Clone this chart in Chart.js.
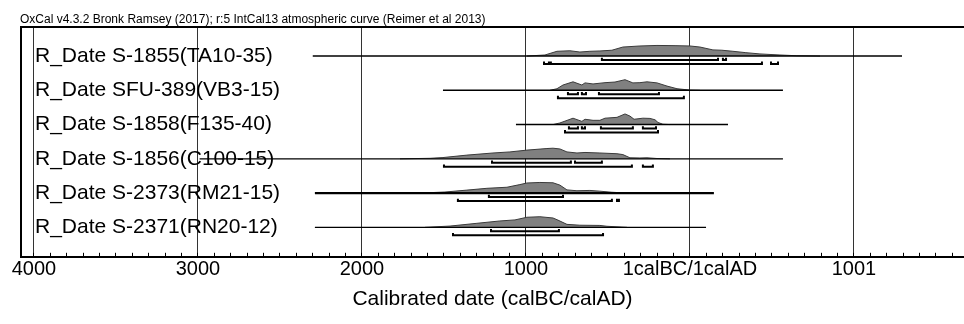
<!DOCTYPE html>
<html>
<head>
<meta charset="utf-8">
<script src="https://cdn.jsdelivr.net/npm/chart.js@4.4.0/dist/chart.umd.min.js"></script>
<style>
  body { margin: 0; background: #fff; }
  #wrap { width: 964px; height: 324px; }
</style>
</head>
<body>
<div id="wrap"><canvas id="oxcal" width="964" height="324"></canvas></div>
<script>
// Calibrated dates: years BC are negative, AD positive
const rowLabels = [
  'R_Date S-1855(TA10-35)',
  'R_Date SFU-389(VB3-15)',
  'R_Date S-1858(F135-40)',
  'R_Date S-1856(C100-15)',
  'R_Date S-2373(RM21-15)',
  'R_Date S-2371(RN20-12)'
];

// horizontal span of each row's line
const lineSpans = [[-2300, 1293], [-1506, 567], [-1061, 232], [-2990, 567], [-2287, 146], [-2287, 98]];

// probability distributions [year, relative height]
const densityS1855 = [[-994, 0], [-884, 0.1], [-811, 0.45], [-732, 0.5], [-671, 0.38], [-610, 0.45], [-549, 0.48],
  [-476, 0.55], [-409, 0.85], [-305, 0.95], [-201, 1], [-91, 0.98], [0, 0.95], [61, 0.85], [140, 0.58], [195, 0.55],
  [262, 0.45], [341, 0.32], [427, 0.2], [549, 0.1], [652, 0.03], [793, 0]];
const densitySFU389 = [[-854, 0], [-811, 0.15], [-774, 0.5], [-713, 0.8], [-659, 0.5], [-640, 0.7], [-591, 0.6],
  [-518, 0.72], [-457, 0.78], [-396, 1], [-348, 0.7], [-305, 0.72], [-262, 0.8], [-201, 0.7], [-140, 0.4],
  [-79, 0.15], [0, 0.02], [61, 0]];
const densityS1858 = [[-835, 0], [-793, 0.15], [-713, 0.6], [-659, 0.3], [-640, 0.5], [-591, 0.4], [-549, 0.4],
  [-518, 0.6], [-445, 0.68], [-396, 1], [-366, 0.8], [-341, 0.5], [-287, 0.6], [-244, 0.58], [-213, 0.45],
  [-195, 0.2], [-165, 0.03], [-122, 0]];
const densityS1856 = [[-1768, 0], [-1585, 0.05], [-1506, 0.12], [-1360, 0.35], [-1201, 0.55], [-1098, 0.65],
  [-994, 0.82], [-872, 0.97], [-835, 1], [-793, 0.93], [-750, 0.65], [-689, 0.55], [-640, 0.6], [-549, 0.55],
  [-445, 0.48], [-409, 0.4], [-366, 0.1], [-305, 0.08], [-262, 0.1], [-201, 0.03], [-122, 0]];
const densityS2373 = [[-1646, 0], [-1494, 0.1], [-1360, 0.28], [-1238, 0.45], [-1116, 0.55], [-1037, 0.8],
  [-994, 0.95], [-915, 1], [-835, 0.97], [-793, 0.75], [-750, 0.3], [-689, 0.22], [-610, 0.25], [-549, 0.18],
  [-476, 0.08], [-384, 0]];
const densityS2371 = [[-1616, 0], [-1463, 0.12], [-1299, 0.38], [-1159, 0.6], [-1067, 0.7], [-994, 0.95],
  [-915, 1], [-835, 0.88], [-805, 0.68], [-750, 0.28], [-671, 0.2], [-549, 0.18], [-506, 0.1], [-384, 0]];

// 68.2% and 95.4% highest probability ranges
const range68 = [
  [[-537, 171], [201, 220]],
  [[-744, -683], [-659, -634], [-555, -189]],
  [[-738, -683], [-659, -640], [-543, -348], [-287, -207]],
  [[-1207, -726], [-701, -537]],
  [[-1226, -774]],
  [[-1213, -799]]
];
const range95 = [
  [[-890, -860], [-848, 439], [494, 537]],
  [[-805, -37]],
  [[-762, -195]],
  [[-1500, -354], [-287, -226]],
  [[-1415, -476], [-445, -433]],
  [[-1445, -530]]
];

// axis ticks
const majorYears = [-4000, -3000, -2000, -1000, 0, 1000];
const majorLabels = ['4000', '3000', '2000', '1000', '1calBC/1calAD', '1001'];
const minorStep = 100;

const densities = [densityS1855, densitySFU389, densityS1858, densityS1856, densityS2373, densityS2371];

const X_MIN = -4079, X_MAX = 1671;
const PEAK = 0.31;     // height of a distribution, in row units
const OFF68 = 0.116;   // bar offsets below the line
const OFF95 = 0.232;
const CAP = 0.07;
const FONT = "'Liberation Sans', Arial, sans-serif";

function bracketPoints(segments, y) {
  const pts = [];
  segments.forEach(([a, b]) => {
    pts.push({ x: a, y: y - CAP }, { x: a, y: y }, { x: b, y: y }, { x: b, y: y - CAP }, { x: b, y: null });
  });
  return pts;
}

const datasets = [];
rowLabels.forEach((label, i) => {
  const row = i + 1;
  datasets.push({
    label: label + ' distribution',
    data: densities[i].map(([x, h]) => ({ x: x, y: row - h * PEAK })),
    borderColor: '#3a3a3a',
    borderWidth: 1,
    backgroundColor: '#808080',
    fill: { value: row },
    pointRadius: 0,
    tension: 0,
    order: 3
  });
  datasets.push({
    label: label + ' line',
    data: lineSpans[i].map(x => ({ x: x, y: row })),
    borderColor: '#000',
    borderWidth: row === 5 ? 2.2 : 1.4,
    pointRadius: 0,
    fill: false,
    order: 2
  });
  datasets.push({
    label: label + ' 68.2%',
    data: bracketPoints(range68[i], row + OFF68),
    borderColor: '#000',
    borderWidth: 2,
    pointRadius: 0,
    fill: false,
    spanGaps: false,
    order: 1
  });
  datasets.push({
    label: label + ' 95.4%',
    data: bracketPoints(range95[i], row + OFF95),
    borderColor: '#000',
    borderWidth: 2,
    pointRadius: 0,
    fill: false,
    spanGaps: false,
    order: 1
  });
});

const ctx = document.getElementById('oxcal').getContext('2d');

const oxcalChart = new Chart(ctx, {
  type: 'line',
  data: { datasets: datasets },
  options: {
    responsive: false,
    animation: false,
    devicePixelRatio: 1,
    layout: { padding: { left: 20, right: 0, top: 0, bottom: 0 } },
    scales: {
      x: {
        type: 'linear',
        position: 'bottom',
        min: X_MIN,
        max: X_MAX,
        // a tick every 100 years, labels only on the thousands
        afterBuildTicks: function (scale) {
          const ticks = [];
          for (let v = Math.ceil(scale.min / minorStep) * minorStep; v <= scale.max; v += minorStep) {
            ticks.push({ value: v });
          }
          scale.ticks = ticks;
        },
        ticks: {
          autoSkip: false,
          maxRotation: 0,
          minRotation: 0,
          padding: 5,
          color: '#000',
          font: { family: FONT, size: 20 },
          callback: function (value) {
            const i = majorYears.indexOf(value);
            return i >= 0 ? majorLabels[i] : '';
          }
        },
        grid: {
          color: c => (c.tick && majorYears.includes(c.tick.value)) ? '#333' : 'rgba(0,0,0,0)',
          lineWidth: 1,
          drawTicks: true,
          tickLength: -4,
          tickColor: '#000',
          tickWidth: 1
        },
        border: { display: true, color: '#000', width: 2 },
        title: {
          display: true,
          text: 'Calibrated date (calBC/calAD)',
          color: '#000',
          font: { family: FONT, size: 21 },
          padding: { top: 0, bottom: 12 }
        }
      },
      xTop: {
        type: 'linear',
        position: 'top',
        min: X_MIN,
        max: X_MAX,
        ticks: { display: false },
        grid: { display: false, drawTicks: false },
        border: { display: true, color: '#000', width: 2 }
      },
      y: {
        type: 'linear',
        position: 'left',
        reverse: true,
        min: 0.14,
        max: 6.86,
        afterBuildTicks: function (scale) {
          scale.ticks = rowLabels.map((_, i) => ({ value: i + 1 }));
        },
        afterFit: function (scale) {
          scale.width = 1;
        },
        ticks: {
          mirror: true,
          padding: 14,
          autoSkip: false,
          color: '#000',
          font: { family: FONT, size: 21 },
          callback: function (value) {
            return rowLabels[value - 1] || '';
          }
        },
        grid: { display: false, drawTicks: false },
        border: { display: true, color: '#000', width: 2 }
      }
    },
    plugins: {
      legend: { display: false },
      tooltip: { enabled: false },
      title: {
        display: true,
        text: 'OxCal v4.3.2 Bronk Ramsey (2017); r:5 IntCal13 atmospheric curve (Reimer et al 2013)',
        align: 'start',
        color: '#000',
        font: { family: FONT, size: 12, weight: 'normal' },
        padding: { top: 12, bottom: 0 }
      }
    }
  }
});
</script>
</body>
</html>
